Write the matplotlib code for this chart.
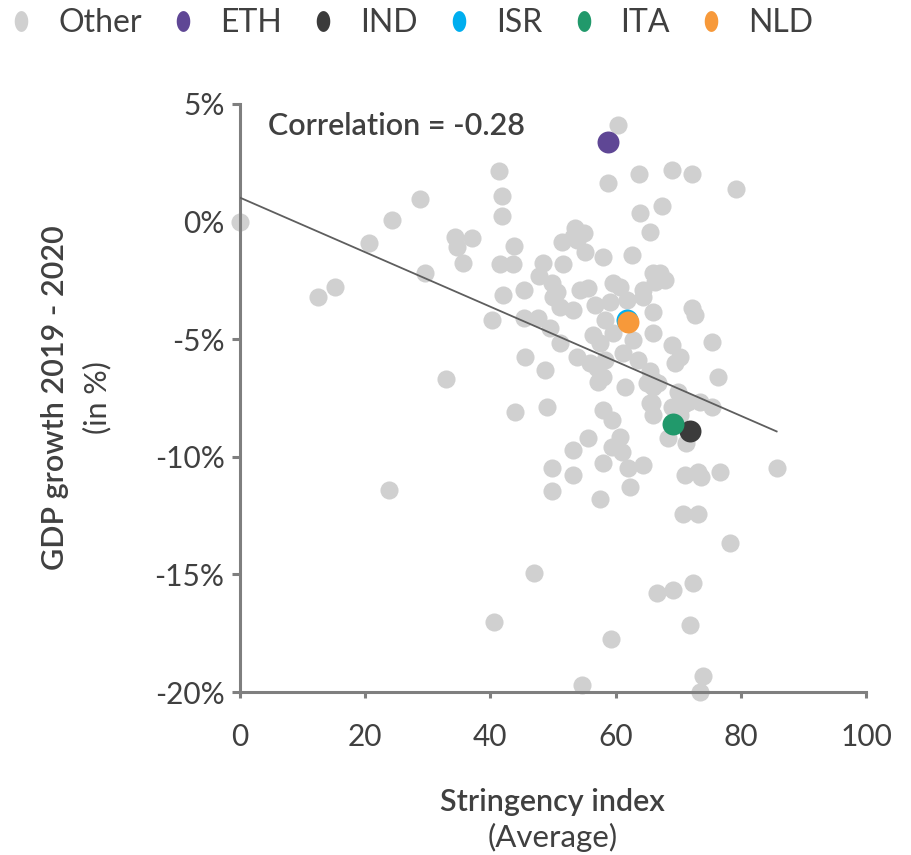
import matplotlib
matplotlib.use("Agg")
import numpy as np
import matplotlib.pyplot as plt
from matplotlib.ticker import FuncFormatter
from matplotlib.lines import Line2D

plt.rcParams['font.family'] = ['Lato', 'DejaVu Sans']

# average stringency index vs GDP growth 2019-2020 (%), all other countries
other_x = [0.0, 12.5, 15.2, 20.6, 24.3, 28.8, 29.6, 23.8, 32.9, 34.3,
           37.0, 34.6, 35.7, 41.4, 41.9, 41.8, 43.7, 41.5, 43.6, 48.4,
           47.8, 51.6, 51.4, 53.5, 54.9, 53.8, 53.2, 55.1, 58.0, 62.6,
           66.0, 42.0, 45.3, 49.8, 54.3, 59.6, 64.4, 50.6, 50.0, 51.1,
           53.2, 55.6, 56.7, 58.3, 56.4, 57.5, 40.2, 45.3, 47.6, 49.5,
           51.1, 53.8, 55.9, 45.5, 48.7, 57.2, 43.9, 49.0, 58.0, 57.0,
           61.5, 59.4, 60.7, 59.4, 61.0, 55.6, 53.2, 58.0, 62.0, 64.4,
           49.8, 53.2, 49.8, 62.3, 59.1, 59.6, 61.8, 64.4, 66.0, 66.0,
           62.8, 61.2, 63.6, 65.5, 66.0, 65.5, 66.0, 63.8, 63.9, 67.1,
           67.9, 66.3, 60.7, 72.2, 72.7, 75.4, 69.0, 70.3, 69.5, 58.3,
           58.0, 76.4, 65.0, 66.8, 70.0, 65.8, 69.0, 71.6, 73.5, 75.4,
           66.0, 70.8, 70.3, 68.4, 71.3, 71.1, 73.2, 73.7, 76.7, 85.7,
           67.4, 69.0, 72.2, 79.2, 65.5, 60.4, 58.8, 70.8, 73.2, 78.2,
           72.4, 66.6, 69.2, 71.9, 73.9, 73.5, 57.5, 47.0, 40.5, 59.2,
           54.7]
other_y = [0.0, -3.2, -2.8, -0.9, 0.05, 0.96, -2.2, -11.4, -6.7, -0.64,
           -0.71, -1.07, -1.77, 2.15, 1.1, 0.24, -1.02, -1.82, -1.82, -1.74,
           -2.31, -1.82, -0.85, -0.29, -0.47, -0.78, -0.64, -1.28, -1.49, -1.42,
           -2.2, -3.12, -2.91, -2.62, -2.91, -2.62, -2.91, -2.98, -3.19, -3.62,
           -3.76, -2.84, -3.55, -4.18, -4.82, -5.17, -4.18, -4.11, -4.11, -4.54,
           -5.17, -5.74, -6.02, -5.74, -6.31, -6.81, -8.1, -7.9, -8.0, -6.24,
           -7.02, -8.44, -9.15, -9.57, -9.78, -9.21, -9.71, -10.28, -10.49, -10.35,
           -10.49, -10.77, -11.45, -11.27, -3.41, -4.75, -3.33, -3.19, -3.83, -4.75,
           -5.03, -5.6, -5.9, -6.35, -7.02, -7.73, -8.22, 2.02, 0.35, -2.2,
           -2.48, -2.55, -2.76, -3.69, -3.97, -5.11, -5.25, -5.74, -6.02, -5.88,
           -6.59, -6.6, -6.88, -6.88, -7.23, -7.73, -7.87, -7.66, -7.66, -7.87,
           -6.73, -7.8, -8.24, -9.21, -9.4, -10.77, -10.63, -10.85, -10.63, -10.46,
           0.66, 2.19, 2.02, 1.37, -0.43, 4.1, 1.63, -12.43, -12.43, -13.68,
           -15.35, -15.78, -15.66, -17.15, -19.32, -20.0, -11.81, -14.93, -17.01, -17.76,
           -19.7]

# highlighted countries
countries = ["ETH", "IND", "ISR", "ITA", "NLD"]
country_x = [58.8, 71.9, 61.8, 69.2, 62.0]
country_y = [3.4, -8.9, -4.18, -8.62, -4.28]
country_colors = ["#5f4795", "#3b3b3b", "#00aeef", "#21996b", "#f7993a"]

# linear trend (intercept, slope) and correlation
trend_intercept = 1.02
trend_slope = -0.116
correlation = -0.28

text_color = "#404040"
axis_color = "#7f7f7f"
fs = 22

fig = plt.figure(figsize=(9.12, 8.55), dpi=100)
ax = fig.add_axes([0.263, 0.1906, 0.6868, 0.6878])

ax.scatter(other_x, other_y, s=170, color="#d0d0d0", linewidths=0, zorder=2, clip_on=False)
for name, x, y, c in zip(countries, country_x, country_y, country_colors):
    ax.scatter([x], [y], s=250, color=c, linewidths=0, zorder=3, clip_on=False)

x0, x1 = min(other_x), max(other_x)
ax.plot([x0, x1], [trend_intercept + trend_slope * x0, trend_intercept + trend_slope * x1],
        color="#5e5e5e", lw=1.3, zorder=4)

ax.text(4.5, 4.05, f"Correlation = {correlation:.2f}", fontsize=fs, fontweight="semibold",
        color=text_color, va="center", ha="left")

ax.set_xlim(0, 100)
ax.set_ylim(-20, 5)
ax.set_xticks([0, 20, 40, 60, 80, 100])
ax.set_yticks([5, 0, -5, -10, -15, -20])
ax.yaxis.set_major_formatter(FuncFormatter(lambda v, p: f"{v:.0f}%"))

for side in ["top", "right"]:
    ax.spines[side].set_visible(False)
for side in ["left", "bottom"]:
    ax.spines[side].set_color(axis_color)
    ax.spines[side].set_linewidth(2.2)
ax.tick_params(axis="y", length=6, width=2.2, color=axis_color, labelsize=21.5,
               labelcolor=text_color, pad=5)
ax.tick_params(axis="x", length=4, width=2.2, color=axis_color, labelsize=21.5,
               labelcolor=text_color, pad=18)

# axis titles
fig.text(0.060, 0.5345, "GDP growth 2019 - 2020", rotation=90, fontsize=fs,
         fontweight="semibold", color=text_color, ha="center", va="center")
fig.text(0.106, 0.5345, "(in %)", rotation=90, fontsize=fs, color=text_color,
         ha="center", va="center")
fig.text(0.606, 0.062, "Stringency index", fontsize=fs, fontweight="semibold",
         color=text_color, ha="center", va="center")
fig.text(0.606, 0.020, "(Average)", fontsize=fs + 0.5, color=text_color,
         ha="center", va="center")

# legend with slightly tall oval markers
t = np.linspace(0, 2 * np.pi, 60)
oval = list(zip(0.65 * np.cos(t), np.sin(t)))

def legend_dot(c):
    return Line2D([], [], marker=oval, ls="", markersize=15, color=c, markeredgewidth=0)

handles = [legend_dot("#d0d0d0")] + [legend_dot(c) for c in country_colors]
labels = ["Other"] + countries
fig.legend(handles, labels, ncol=6, loc="upper left", bbox_to_anchor=(0.006, 0.991),
           frameon=False, fontsize=23, handlelength=1.0, handletextpad=0.65,
           columnspacing=0.8, borderpad=0, borderaxespad=0, labelcolor=text_color)

fig.savefig("out.png", dpi=100)
